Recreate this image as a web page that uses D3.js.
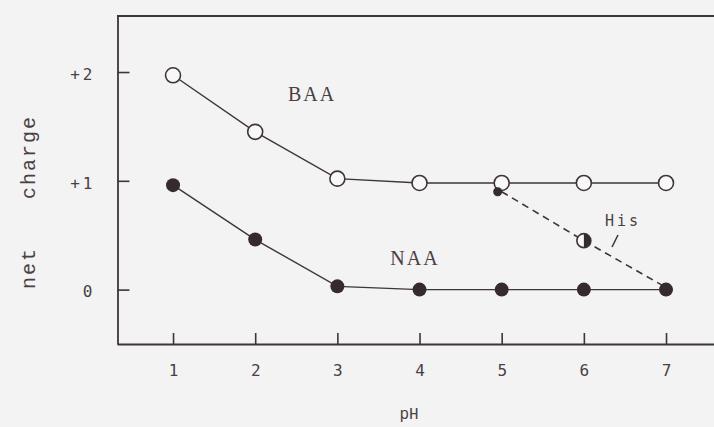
<!DOCTYPE html>
<html>
<head>
<meta charset="utf-8">
<script src="https://cdn.jsdelivr.net/npm/d3@7"></script>
<style>
  body { margin: 0; background: #f3f3f3; }
  svg { display: block; }
</style>
</head>
<body>
<div id="chart"></div>
<script>
// pH values on the x axis
var phValues = [1, 2, 3, 4, 5, 6, 7];
// net charge
var baaCharge = [1.97, 1.45, 1.02, 0.98, 0.98, 0.98, 0.98];
var naaCharge = [0.96, 0.46, 0.03, 0, 0, 0, 0];
var hisPh = [5, 6, 7];
var hisCharge = [0.9, 0.45, 0.02];
var yTicks = [0, 1, 2];
var yTickLabels = ["0", "+1", "+2"];

var vWidth = 714, vHeight = 427;
var ink = "#3f3437";
var textInk = "#4a4044";

var svg = d3.select("#chart")
    .append("svg")
    .attr("width", vWidth)
    .attr("height", vHeight);

var x = d3.scaleLinear().domain([0.318, 7.584]).range([117, 714]);
var y = d3.scaleLinear().domain([-0.5, 2.515]).range([344, 16]);

// left axis, ticks pointing inward
var gY = svg.append("g")
    .attr("transform", "translate(117.5,0)")
    .call(d3.axisLeft(y)
        .tickValues(yTicks)
        .tickFormat(function (d, i) { return yTickLabels[i]; })
        .tickSizeInner(-12)
        .tickSizeOuter(0)
        .tickPadding(22));

// bottom axis
var gX = svg.append("g")
    .attr("transform", "translate(0,344)")
    .call(d3.axisBottom(x)
        .tickValues(phValues)
        .tickFormat(d3.format("d"))
        .tickSizeInner(-11)
        .tickSizeOuter(0)
        .tickPadding(21));

[gX, gY].forEach(function (g) {
    g.select(".domain").attr("stroke", ink).attr("stroke-width", 1.8);
    g.selectAll(".tick line").attr("stroke", ink).attr("stroke-width", 1.6);
    g.selectAll(".tick text")
        .attr("fill", textInk)
        .style("font-family", "'DejaVu Sans Mono', monospace")
        .style("font-size", "16px");
});
gY.selectAll(".tick text").attr("letter-spacing", "3px").attr("dy", "0.45em");

// top frame line
svg.append("line")
    .attr("x1", x.range()[0]).attr("x2", x.range()[1])
    .attr("y1", y.range()[1]).attr("y2", y.range()[1])
    .attr("stroke", ink).attr("stroke-width", 1.8);

var line = d3.line()
    .x(function (d) { return x(d[0]); })
    .y(function (d) { return y(d[1]); });

var baaPts = d3.zip(phValues, baaCharge);
var naaPts = d3.zip(phValues, naaCharge);
var hisPts = d3.zip(hisPh, hisCharge);

// His dashed line
svg.append("path")
    .attr("d", line(hisPts))
    .attr("fill", "none")
    .attr("stroke", ink)
    .attr("stroke-width", 1.6)
    .attr("stroke-dasharray", "7,5");

svg.append("path")
    .attr("d", line(baaPts))
    .attr("fill", "none")
    .attr("stroke", ink)
    .attr("stroke-width", 1.4);

svg.append("path")
    .attr("d", line(naaPts))
    .attr("fill", "none")
    .attr("stroke", ink)
    .attr("stroke-width", 1.4);

// NAA filled markers
svg.selectAll("circle.naa")
    .data(naaPts)
    .enter()
    .append("circle")
    .attr("class", "naa")
    .attr("cx", function (d) { return x(d[0]); })
    .attr("cy", function (d) { return y(d[1]); })
    .attr("r", 7)
    .attr("fill", "#352b2e");

// BAA open markers
svg.selectAll("circle.baa")
    .data(baaPts)
    .enter()
    .append("circle")
    .attr("class", "baa")
    .attr("cx", function (d) { return x(d[0]); })
    .attr("cy", function (d) { return y(d[1]); })
    .attr("r", 7.5)
    .attr("fill", "#f8f8f8")
    .attr("stroke", ink)
    .attr("stroke-width", 1.6);

// His markers: small dark at pH 5, half-filled at pH 6
svg.append("circle")
    .attr("cx", x(hisPts[0][0]) - 4)
    .attr("cy", y(hisPts[0][1]))
    .attr("r", 4.5)
    .attr("fill", "#352b2e");

var hx = x(hisPts[1][0]), hy = y(hisPts[1][1]), hr = 7;
svg.append("circle")
    .attr("cx", hx).attr("cy", hy).attr("r", hr)
    .attr("fill", "#f8f8f8").attr("stroke", ink).attr("stroke-width", 1.6);
svg.append("path")
    .attr("d", d3.arc()({ innerRadius: 0, outerRadius: hr, startAngle: 0, endAngle: Math.PI }))
    .attr("transform", "translate(" + hx + "," + hy + ")")
    .attr("fill", "#352b2e");

// labels
svg.append("text")
    .attr("x", 312).attr("y", 101)
    .attr("text-anchor", "middle")
    .attr("fill", textInk)
    .attr("letter-spacing", "2px")
    .style("font-family", "'Liberation Serif', serif")
    .style("font-size", "20px")
    .text("BAA");

svg.append("text")
    .attr("x", 415).attr("y", 265)
    .attr("text-anchor", "middle")
    .attr("fill", textInk)
    .attr("letter-spacing", "2px")
    .style("font-family", "'Liberation Serif', serif")
    .style("font-size", "20px")
    .text("NAA");

svg.append("text")
    .attr("x", 623).attr("y", 226)
    .attr("text-anchor", "middle")
    .attr("fill", textInk)
    .attr("letter-spacing", "3px")
    .style("font-family", "'DejaVu Sans Mono', monospace")
    .style("font-size", "15px")
    .text("His");

svg.append("line")
    .attr("x1", 618).attr("y1", 235)
    .attr("x2", 612).attr("y2", 247)
    .attr("stroke", ink).attr("stroke-width", 1.6);

// axis titles
svg.append("text")
    .attr("transform", "translate(35,157) rotate(-90)")
    .attr("text-anchor", "middle")
    .attr("fill", textInk)
    .attr("letter-spacing", "2px")
    .style("font-family", "'Liberation Mono', monospace")
    .style("font-size", "20px")
    .text("charge");

svg.append("text")
    .attr("transform", "translate(35,268) rotate(-90)")
    .attr("text-anchor", "middle")
    .attr("fill", textInk)
    .attr("letter-spacing", "2px")
    .style("font-family", "'Liberation Mono', monospace")
    .style("font-size", "20px")
    .text("net");

svg.append("text")
    .attr("x", 409).attr("y", 419)
    .attr("text-anchor", "middle")
    .attr("fill", textInk)
    .style("font-family", "'Liberation Mono', monospace")
    .style("font-size", "16px")
    .text("pH");
</script>
</body>
</html>
